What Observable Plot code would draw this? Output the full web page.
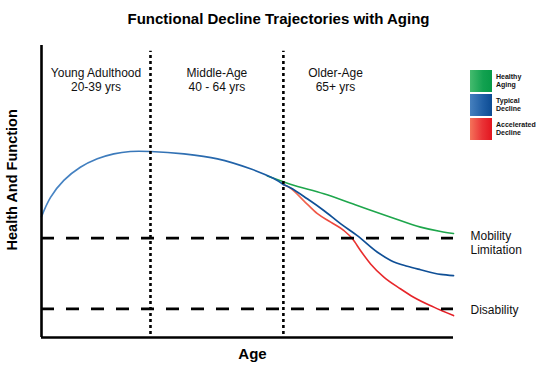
<!DOCTYPE html>
<html>
<head>
<meta charset="utf-8">
<script src="https://cdn.jsdelivr.net/npm/d3@7"></script>
<script src="https://cdn.jsdelivr.net/npm/@observablehq/plot@0.6"></script>
<style>
  html, body { margin: 0; padding: 0; background: #fff; }
  #wrap { position: relative; width: 536px; height: 367px; font-family: "Liberation Sans", Arial, sans-serif; }
  .legend { position: absolute; left: 470px; }
  .sw { position: absolute; left: 0; width: 22px; height: 22px; }
  .lt { position: absolute; left: 26px; font-size: 7px; font-weight: bold; line-height: 8.3px; color: #111; white-space: nowrap; }
</style>
</head>
<body>
<div id="wrap"></div>
<script>
// ---- data ----
const title = "Functional Decline Trajectories with Aging";
const xLabel = "Age";
const yLabel = "Health And Function";

const stageLabels = ["Young Adulthood\n20-39 yrs", "Middle-Age\n40 - 64 yrs", "Older-Age\n65+ yrs"];
const stageLabelAge = [29.75, 52.5, 74.8];
const stageBounds = [40, 65];

const thresholdLabels = ["Mobility\nLimitation", "Disability"];
const thresholdValues = [34, 9.8];

// shared trajectory (young & middle adulthood)
const sharedAge    = [19.5, 21.2, 23.7, 26.8, 30.0, 33.1, 36.2, 40.0, 46.3, 52.6, 58.8, 63.1, 65.0];
const sharedHealth = [41.4, 48.0, 53.8, 58.3, 61.2, 62.9, 63.7, 63.7, 62.9, 61.2, 57.8, 54.5, 52.4];

// older-age branches
const healthyAge    = [62.0, 66.3, 72.6, 78.9, 85.2, 90.8, 94.6, 97.0];
const healthyHealth = [55.3, 52.5, 49.2, 45.2, 41.2, 37.8, 36.3, 35.6];

const typicalAge    = [65.0, 66.3, 69.5, 72.6, 75.8, 78.9, 82.7, 85.2, 88.3, 90.8, 94.6, 97.0];
const typicalHealth = [52.4, 51.3, 47.5, 43.5, 38.9, 34.9, 29.2, 26.4, 24.4, 23.2, 21.6, 21.2];

const accelAge    = [65.0, 66.3, 68.8, 71.4, 73.9, 76.4, 78.0, 79.5, 81.4, 83.9, 87.0, 89.5, 93.3, 97.0];
const accelHealth = [52.4, 51.2, 46.9, 42.4, 39.5, 36.6, 33.8, 29.8, 25.2, 20.7, 16.7, 13.8, 10.4, 7.5];

const legendLabels = ["Healthy\nAging", "Typical\nDecline", "Accelerated\nDecline"];

// ---- build ----
const toRows = (xs, ys) => xs.map((x, i) => ({x, y: ys[i]}));
const font = "Liberation Sans, Arial, sans-serif";

const chart = Plot.plot({
  width: 536,
  height: 367,
  marginLeft: 41,
  marginRight: 83,
  marginTop: 45,
  marginBottom: 30,
  style: {fontFamily: font, background: "#fff", overflow: "visible"},
  x: {domain: [19.5, 97], axis: null},
  y: {domain: [0, 100], axis: null},
  marks: [
    Plot.line(toRows(accelAge, accelHealth), {x: "x", y: "y", curve: "monotone-x", stroke: "url(#gRed)", strokeWidth: 1.6}),
    Plot.line(toRows(healthyAge, healthyHealth), {x: "x", y: "y", curve: "monotone-x", stroke: "#1ea64c", strokeWidth: 1.6}),
    Plot.line(toRows(typicalAge, typicalHealth), {x: "x", y: "y", curve: "monotone-x", stroke: "#0f4f96", strokeWidth: 1.7}),
    Plot.line(toRows(sharedAge, sharedHealth), {x: "x", y: "y", curve: "catmull-rom", stroke: "url(#gMain)", strokeWidth: 1.7}),
    Plot.ruleX(stageBounds, {y1: 1, y2: 98, stroke: "#000", strokeWidth: 2.6, strokeDasharray: "3,3"}),
    Plot.ruleY(thresholdValues, {x1: 19.5, x2: 97, stroke: "#000", strokeWidth: 2.8, strokeDasharray: "13,12"}),
    Plot.ruleX([19.5], {y1: 0, y2: 100, stroke: "#000", strokeWidth: 2.6}),
    Plot.ruleY([0], {x1: 19.5, x2: 97, stroke: "#000", strokeWidth: 2.6}),
    Plot.text(stageLabels, {x: (d, i) => stageLabelAge[i], y: 88.5, text: d => d, fontSize: 12, lineHeight: 1.17, fill: "#111"}),
    Plot.text([thresholdLabels[0]], {x: 97, y: thresholdValues[0], text: d => d, dx: 17, dy: 4.5, textAnchor: "start", fontSize: 12, lineHeight: 1.12, fill: "#111"}),
    Plot.text([thresholdLabels[1]], {x: 97, y: thresholdValues[1], text: d => d, dx: 17, dy: 1, textAnchor: "start", fontSize: 12, fill: "#111"}),
    Plot.text([title], {frameAnchor: "top", text: d => d, dx: 31, dy: -32, fontSize: 15, fontWeight: "bold", fill: "#000"}),
    Plot.text([xLabel], {frameAnchor: "bottom", text: d => d, dx: 5, dy: 21, fontSize: 15, fontWeight: "bold", fill: "#000"}),
    Plot.text([yLabel], {x: 14.1, y: 54, text: d => d, rotate: -90, fontSize: 14.5, fontWeight: "bold", fill: "#000"})
  ]
});

d3.select(chart).insert("defs", ":first-child").html(`
  <linearGradient id="gMain" x1="0" y1="0" x2="1" y2="0">
    <stop offset="0" stop-color="#4a86c5"/>
    <stop offset="0.6" stop-color="#2f6fb2"/>
    <stop offset="1" stop-color="#14579f"/>
  </linearGradient>
  <linearGradient id="gRed" x1="0" y1="0" x2="1" y2="0">
    <stop offset="0" stop-color="#f47b5c"/>
    <stop offset="0.25" stop-color="#ee4b3e"/>
    <stop offset="0.5" stop-color="#e82a2c"/>
    <stop offset="1" stop-color="#e41e26"/>
  </linearGradient>
`);

const wrap = document.getElementById("wrap");
wrap.appendChild(chart);
chart.style.position = "absolute";
chart.style.left = "0";
chart.style.top = "0";

// legend (HTML overlay)
const legendFills = [
  "linear-gradient(to right, #45bb6e, #12a150 60%, #079a47)",
  "linear-gradient(to right, #4680be, #1f5ea5 60%, #0c4b93)",
  "linear-gradient(to right, #f4735a, #ea3437 55%, #e3151f)"
];
const legend = document.createElement("div");
legend.className = "legend";
legend.style.top = "70px";
legendLabels.forEach((lab, i) => {
  const sw = document.createElement("div");
  sw.className = "sw";
  sw.style.top = (i * 24) + "px";
  sw.style.background = legendFills[i];
  legend.appendChild(sw);
  const t = document.createElement("div");
  t.className = "lt";
  t.style.top = (i * 24 + 3) + "px";
  t.innerHTML = lab.split("\n").join("<br>");
  legend.appendChild(t);
});
wrap.appendChild(legend);
</script>
</body>
</html>
